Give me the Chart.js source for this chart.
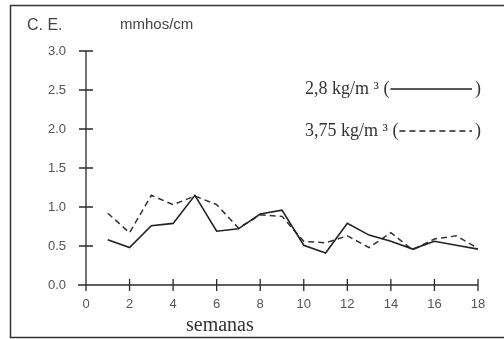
<!DOCTYPE html>
<html>
<head>
<meta charset="utf-8">
<script src="https://cdn.jsdelivr.net/npm/chart.js@4/dist/chart.umd.min.js"></script>
<style>
  body { margin: 0; background: #fff; }
  #grafico { display: block; }
</style>
</head>
<body>
<canvas id="grafico" width="504" height="339"></canvas>
<script>
// semanas (eje x)
var semanas = [1, 2, 3, 4, 5, 6, 7, 8, 9, 10, 11, 12, 13, 14, 15, 16, 17, 18]
// C.E. en mmhos/cm
var dosis28 = [0.58, 0.48, 0.76, 0.79, 1.15, 0.69, 0.72, 0.91, 0.96, 0.51, 0.41, 0.79, 0.64, 0.56, 0.46, 0.56, 0.51, 0.46]
var dosis375 = [0.92, 0.67, 1.15, 1.03, 1.14, 1.03, 0.73, 0.90, 0.88, 0.56, 0.54, 0.63, 0.48, 0.67, 0.45, 0.59, 0.63, 0.47]
var nombresSeries = ['2,8 kg/m ³ (', '3,75 kg/m ³ (']
var ticksX = [0, 2, 4, 6, 8, 10, 12, 14, 16, 18]
var ticksY = [0, 0.5, 1, 1.5, 2, 2.5, 3]
var tituloY = 'C. E.'
var unidadY = 'mmhos/cm'
var tituloX = 'semanas'

var puntos = function(valores) {
    return semanas.map((s, i) => ({ x: s, y: valores[i] }))
}

// ejes con marcas cruzadas, marco y leyenda
var dibujoExtra = {
    id: 'dibujoExtra',
    afterDraw(chart) {
        var ctx = chart.ctx
        var xs = chart.scales.x
        var ys = chart.scales.y
        var x0 = xs.getPixelForValue(0)
        var y0 = ys.getPixelForValue(0)
        ctx.save()
        ctx.strokeStyle = '#2a2a2a'
        ctx.lineWidth = 1.3
        ctx.beginPath()
        ctx.moveTo(x0, ys.getPixelForValue(3))
        ctx.lineTo(x0, y0)
        ctx.moveTo(x0 - 8, y0)
        ctx.lineTo(xs.getPixelForValue(18), y0)
        ticksY.forEach(v => {
            var py = ys.getPixelForValue(v)
            ctx.moveTo(x0 - 7, py)
            ctx.lineTo(x0 + 7, py)
        })
        ticksX.forEach(v => {
            var px = xs.getPixelForValue(v)
            ctx.moveTo(px, y0 - 6)
            ctx.lineTo(px, y0 + 6)
        })
        ctx.stroke()

        // marco
        ctx.strokeStyle = '#333'
        ctx.lineWidth = 1.5
        ctx.beginPath()
        ctx.moveTo(504, 5.5)
        ctx.lineTo(10.5, 5.5)
        ctx.lineTo(10.5, 337.5)
        ctx.lineTo(504, 337.5)
        ctx.stroke()

        // textos
        ctx.fillStyle = '#444'
        ctx.textBaseline = 'alphabetic'
        ctx.font = '16px "Liberation Sans", Arial, sans-serif'
        ctx.fillText(tituloY, 27, 30)
        ctx.font = '15px "Liberation Sans", Arial, sans-serif'
        ctx.fillText(unidadY, 120, 29)
        ctx.fillStyle = '#333'
        ctx.font = '20px "Liberation Serif", "Times New Roman", serif'
        ctx.fillText(tituloX, 186, 331)

        // leyenda
        ctx.font = '18px "Liberation Serif", "Times New Roman", serif'
        var lineasY = [89, 131]
        var finY = [94, 136]
        chart.data.datasets.forEach((ds, i) => {
            ctx.fillStyle = '#333'
            ctx.fillText(nombresSeries[i], 305, finY[i])
            var ancho = ctx.measureText(nombresSeries[i]).width
            var xa = 305 + ancho + 1
            ctx.strokeStyle = '#222'
            ctx.lineWidth = 1.3
            ctx.setLineDash(ds.borderDash || [])
            ctx.beginPath()
            ctx.moveTo(xa, lineasY[i])
            ctx.lineTo(472, lineasY[i])
            ctx.stroke()
            ctx.setLineDash([])
            ctx.fillText(')', 475, finY[i])
        })
        ctx.restore()
    }
}

var graf = document.getElementById('grafico').getContext('2d')
var chart = new Chart(graf, {
    type: 'line',
    data: {
        datasets: [
            {
                label: nombresSeries[0],
                data: puntos(dosis28),
                borderColor: '#222',
                borderWidth: 1.6,
                pointRadius: 0,
                tension: 0,
                fill: false
            },
            {
                label: nombresSeries[1],
                data: puntos(dosis375),
                borderColor: '#333',
                borderWidth: 1.5,
                borderDash: [6, 4],
                pointRadius: 0,
                tension: 0,
                fill: false
            }
        ]
    },
    options: {
        responsive: false,
        animation: false,
        layout: { padding: { left: 0, right: 26, top: 51, bottom: 0 } },
        plugins: {
            legend: { display: false },
            tooltip: { enabled: false }
        },
        scales: {
            x: {
                type: 'linear',
                min: 0,
                max: 18,
                afterFit: s => { s.height = 54 },
                afterBuildTicks: s => { s.ticks = ticksX.map(v => ({ value: v })) },
                grid: { display: false, drawTicks: false },
                border: { display: false },
                ticks: {
                    padding: 12,
                    color: '#555',
                    font: { family: '"Liberation Sans", Arial, sans-serif', size: 13 },
                    maxRotation: 0
                }
            },
            y: {
                min: 0,
                max: 3,
                afterFit: s => { s.width = 86 },
                afterBuildTicks: s => { s.ticks = ticksY.map(v => ({ value: v })) },
                grid: { display: false, drawTicks: false },
                border: { display: false },
                ticks: {
                    padding: 20,
                    color: '#555',
                    font: { family: '"Liberation Sans", Arial, sans-serif', size: 13 },
                    callback: v => v.toFixed(1)
                }
            }
        }
    },
    plugins: [dibujoExtra]
})
</script>
</body>
</html>
